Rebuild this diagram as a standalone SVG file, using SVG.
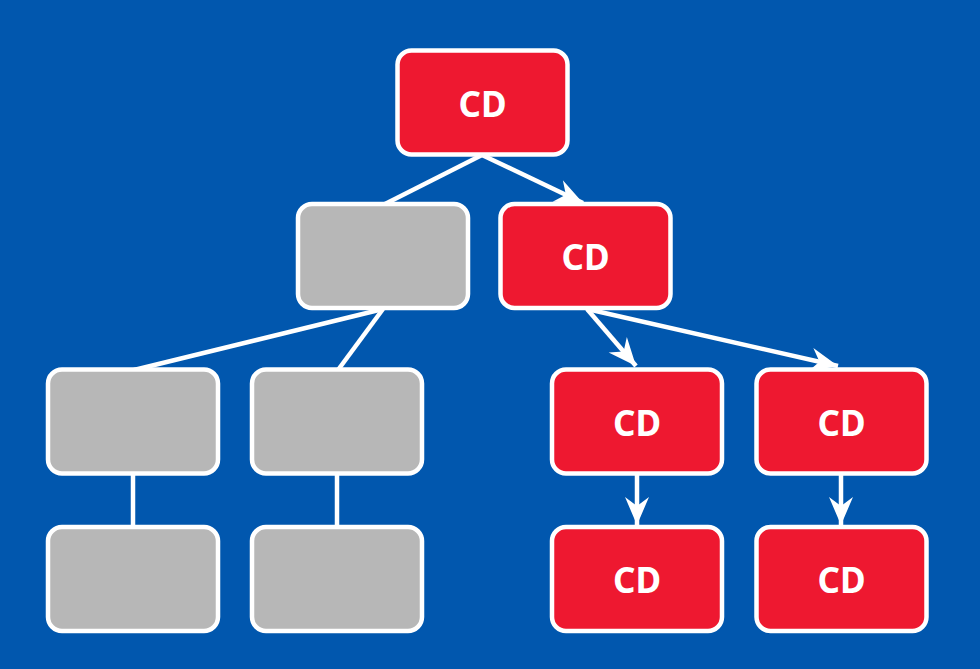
<svg xmlns="http://www.w3.org/2000/svg" width="980" height="669" viewBox="0 0 980 669">
<style>
.n rect{stroke:#fff;stroke-width:4.5}
.red rect{fill:#EE1830}
.gray rect{fill:#B7B7B7}
.n text{fill:#fff;font-family:"Noto Sans","Open Sans","DejaVu Sans",sans-serif;font-weight:700;font-size:35px;text-anchor:middle}
.c line{stroke:#fff;stroke-width:4.5}
</style>
<defs>
<marker id="ah" markerUnits="userSpaceOnUse" markerWidth="32" markerHeight="28" viewBox="-30 -14 32 28" refX="0" refY="0" orient="auto">
<path d="M0,0 L-28,-12 L-19,0 L-28,12 Z" fill="#fff"/>
</marker>
</defs>
<rect width="980" height="669" fill="#0157AE"/>
<g class="c">
<line x1="482" y1="155" x2="383" y2="205"/>
<line x1="482" y1="155" x2="583" y2="203" marker-end="url(#ah)"/>
<line x1="383" y1="309" x2="134" y2="370"/>
<line x1="383" y1="309" x2="338" y2="370"/>
<line x1="587" y1="309" x2="636" y2="366" marker-end="url(#ah)"/>
<line x1="587" y1="309" x2="838" y2="366" marker-end="url(#ah)"/>
<line x1="133" y1="473" x2="133" y2="528"/>
<line x1="337" y1="473" x2="337" y2="528"/>
<line x1="637" y1="473" x2="637" y2="525" marker-end="url(#ah)"/>
<line x1="841" y1="473" x2="841" y2="525" marker-end="url(#ah)"/>
</g>
<g id="n1" class="n red"><rect x="397.5" y="50.5" width="170" height="104" rx="14"/><text x="482.5" y="116.5">CD</text></g>
<g id="n2" class="n gray"><rect x="298" y="204" width="170" height="104" rx="14"/></g>
<g id="n3" class="n red"><rect x="500.5" y="204" width="170" height="104" rx="14"/><text x="585.5" y="270">CD</text></g>
<g id="n4" class="n gray"><rect x="48" y="369.5" width="170" height="104" rx="14"/></g>
<g id="n5" class="n gray"><rect x="252" y="369.5" width="170" height="104" rx="14"/></g>
<g id="n6" class="n red"><rect x="552" y="369.5" width="170" height="104" rx="14"/><text x="637" y="435.5">CD</text></g>
<g id="n7" class="n red"><rect x="756.5" y="369.5" width="170" height="104" rx="14"/><text x="841.5" y="435.5">CD</text></g>
<g id="n8" class="n gray"><rect x="48" y="527" width="170" height="104" rx="14"/></g>
<g id="n9" class="n gray"><rect x="252" y="527" width="170" height="104" rx="14"/></g>
<g id="n10" class="n red"><rect x="552" y="527" width="170" height="104" rx="14"/><text x="637" y="593">CD</text></g>
<g id="n11" class="n red"><rect x="756.5" y="527" width="170" height="104" rx="14"/><text x="841.5" y="593">CD</text></g>
</svg>
